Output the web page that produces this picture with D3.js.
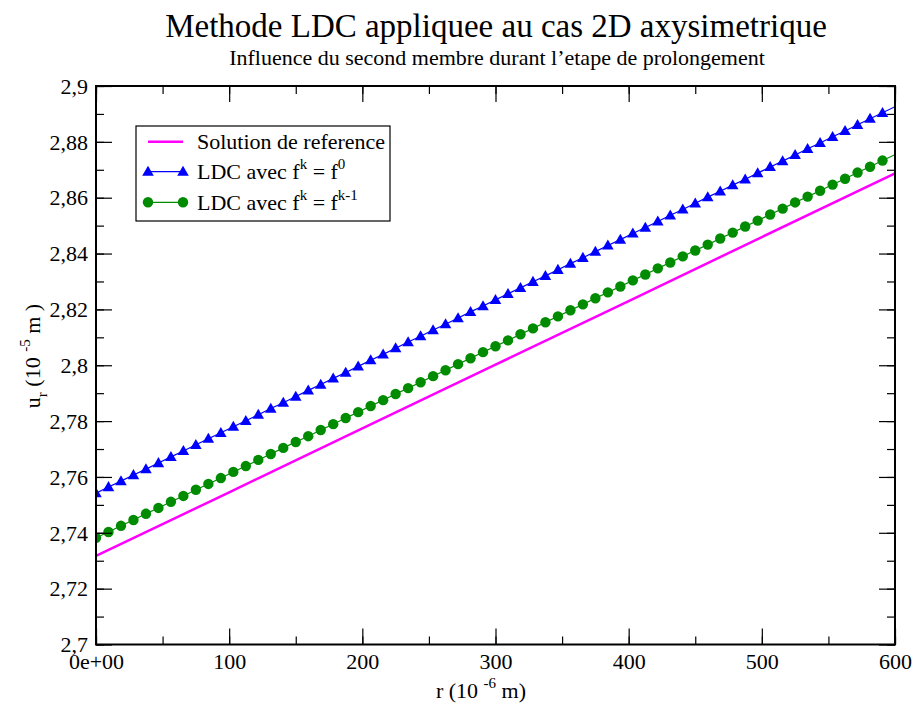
<!DOCTYPE html>
<html><head><meta charset="utf-8">
<script src="https://cdn.jsdelivr.net/npm/d3@7/dist/d3.min.js"></script>
<style>body{margin:0;background:#fff}svg{display:block}text{font-family:"Liberation Serif","Times New Roman",serif;fill:#000}</style>
</head><body><svg id="c" width="914" height="707"></svg>
<script>
const rGrid = [0,9.375,18.75,28.125,37.5,46.875,56.25,65.625,75,84.375,93.75,103.125,112.5,121.875,131.25,140.625,150,159.375,168.75,178.125,187.5,196.875,206.25,215.625,225,234.375,243.75,253.125,262.5,271.875,281.25,290.625,300,309.375,318.75,328.125,337.5,346.875,356.25,365.625,375,384.375,393.75,403.125,412.5,421.875,431.25,440.625,450,459.375,468.75,478.125,487.5,496.875,506.25,515.625,525,534.375,543.75,553.125,562.5,571.875,581.25,590.625,600];
const ldcF0 = [2.7542,2.7564,2.7585,2.7607,2.7628,2.7650,2.7672,2.7693,2.7715,2.7737,2.7758,2.7780,2.7801,2.7823,2.7845,2.7866,2.7888,2.7910,2.7931,2.7953,2.7974,2.7996,2.8018,2.8039,2.8061,2.8083,2.8104,2.8126,2.8147,2.8169,2.8191,2.8212,2.8234,2.8256,2.8277,2.8299,2.8320,2.8342,2.8364,2.8385,2.8407,2.8429,2.8450,2.8472,2.8493,2.8515,2.8537,2.8558,2.8580,2.8602,2.8623,2.8645,2.8666,2.8688,2.8710,2.8731,2.8753,2.8775,2.8796,2.8818,2.8839,2.8861,2.8883,2.8904,2.8926];
const ldcFk1 = [2.7382,2.7403,2.7425,2.7446,2.7468,2.7489,2.7511,2.7532,2.7554,2.7575,2.7596,2.7618,2.7639,2.7661,2.7682,2.7704,2.7725,2.7746,2.7768,2.7789,2.7811,2.7832,2.7854,2.7875,2.7897,2.7918,2.7939,2.7961,2.7982,2.8004,2.8025,2.8047,2.8068,2.8089,2.8111,2.8132,2.8154,2.8175,2.8197,2.8218,2.8240,2.8261,2.8282,2.8304,2.8325,2.8347,2.8368,2.8390,2.8411,2.8432,2.8454,2.8475,2.8497,2.8518,2.8540,2.8561,2.8583,2.8604,2.8625,2.8647,2.8668,2.8690,2.8711,2.8733,2.8754];
const refR = [0,100,200,300,400,500,600];
const refU = [2.7317,2.7545,2.7774,2.8002,2.8230,2.8459,2.8687];
const xTicks = [0,100,200,300,400,500,600];
const xTickLabels = ["0e+00","100","200","300","400","500","600"];
const yTicks = [2.7,2.72,2.74,2.76,2.78,2.8,2.82,2.84,2.86,2.88,2.9];
const yTickLabels = ["2,7","2,72","2,74","2,76","2,78","2,8","2,82","2,84","2,86","2,88","2,9"];

const L=96,R=895,T=86,B=644.5;
const svg=d3.select("#c");
const x=d3.scaleLinear().domain([0,600]).range([L,R]);
const y=d3.scaleLinear().domain([2.7,2.9]).range([B,T]);

svg.append("defs").append("clipPath").attr("id","clip").append("rect").attr("x",L).attr("y",T).attr("width",R-L).attr("height",B-T);
const g=svg.append("g").attr("clip-path","url(#clip)");
const line=d3.line().x(d=>x(d[0])).y(d=>y(d[1]));

g.append("path").datum(refR.map((r,i)=>[r,refU[i]])).attr("d",line).attr("fill","none").attr("stroke","#ff00ff").attr("stroke-width",2.5);
g.append("path").datum(rGrid.map((r,i)=>[r,ldcF0[i]])).attr("d",line).attr("fill","none").attr("stroke","#0000ff").attr("stroke-width",1.2);
g.append("path").datum(rGrid.map((r,i)=>[r,ldcFk1[i]])).attr("d",line).attr("fill","none").attr("stroke","#008b00").attr("stroke-width",1.2);

const tri=d3.symbol().type(d3.symbolTriangle).size(58);
const inside=rGrid.map((r,i)=>i).filter(i=>rGrid[i]<600);
g.selectAll(".tri").data(inside).join("path").attr("d",tri).attr("transform",i=>`translate(${x(rGrid[i])},${y(ldcF0[i])+0.8})`).attr("fill","#0000ff");
g.selectAll(".cir").data(inside).join("circle").attr("cx",i=>x(rGrid[i])).attr("cy",i=>y(ldcFk1[i])).attr("r",5.2).attr("fill","#008b00");

// axes with inward ticks, mirrored
const xMinor=d3.range(0,601,50), yMinor=d3.range(0,21).map(i=>2.7+i*0.01);
function ax(axisGen,tr){return svg.append("g").attr("transform",tr).call(axisGen).call(s=>s.select(".domain").remove());}
ax(d3.axisBottom(x).tickValues(xMinor).tickSize(-8).tickFormat(""),`translate(0,${B})`);
ax(d3.axisTop(x).tickValues(xMinor).tickSize(-8).tickFormat(""),`translate(0,${T})`);
ax(d3.axisLeft(y).tickValues(yMinor).tickSize(-8).tickFormat(""),`translate(${L},0)`);
ax(d3.axisRight(y).tickValues(yMinor).tickSize(-8).tickFormat(""),`translate(${R},0)`);
const xb=ax(d3.axisBottom(x).tickValues(xTicks).tickSize(-16).tickPadding(7).tickFormat((d,i)=>xTickLabels[i]),`translate(0,${B})`);
ax(d3.axisTop(x).tickValues(xTicks).tickSize(-16).tickFormat(""),`translate(0,${T})`);
const yl=ax(d3.axisLeft(y).tickValues(yTicks).tickSize(-16).tickPadding(7).tickFormat((d,i)=>yTickLabels[i]),`translate(${L},0)`);
ax(d3.axisRight(y).tickValues(yTicks).tickSize(-16).tickFormat(""),`translate(${R},0)`);
svg.selectAll(".tick line").attr("stroke","#000").attr("stroke-width",1.2);
svg.selectAll(".tick text").style("font-family","Liberation Serif").style("font-size","22px").attr("fill","#000");
xb.selectAll(".tick text").attr("dy","0.9em").attr("y",5);
yl.selectAll(".tick text").attr("x",-8).attr("dy","0.33em");
svg.append("rect").attr("x",L).attr("y",T).attr("width",R-L).attr("height",B-T).attr("fill","none").attr("stroke","#000").attr("stroke-width",2);

// titles
svg.append("text").attr("x",496).attr("y",37).attr("text-anchor","middle").style("font-size","33px").text("Methode LDC appliquee au cas 2D axysimetrique");
svg.append("text").attr("x",497).attr("y",65).attr("text-anchor","middle").style("font-size","22px").text("Influence du second membre durant l\u2019etape de prolongement");

// axis labels
const xt=svg.append("text").attr("x",481).attr("y",698).attr("text-anchor","middle").style("font-size","22px");
xt.append("tspan").text("r (10 ");
xt.append("tspan").attr("dy",-10).style("font-size","15px").text("-6");
xt.append("tspan").attr("dy",10).text(" m)");
const yt=svg.append("text").attr("transform","translate(40,356) rotate(-90)").attr("text-anchor","middle").style("font-size","22px");
yt.append("tspan").text("u");
yt.append("tspan").attr("dy",7).style("font-size","15px").text("r");
yt.append("tspan").attr("dy",-7).text(" (10 ");
yt.append("tspan").attr("dy",-10).style("font-size","15px").text("-5");
yt.append("tspan").attr("dy",10).text(" m )");

// legend
const lg=svg.append("g");
lg.append("rect").attr("x",136).attr("y",126).attr("width",254).attr("height",95).attr("fill","#fff").attr("stroke","#000").attr("stroke-width",1.2);
const rows=[{y:141.7,c:"#ff00ff",w:2.5,m:null},{y:171.7,c:"#0000ff",w:1.2,m:"tri"},{y:202.3,c:"#008b00",w:1.2,m:"cir"}];
rows.forEach(r=>{
  lg.append("line").attr("x1",148).attr("x2",183).attr("y1",r.y).attr("y2",r.y).attr("stroke",r.c).attr("stroke-width",r.w);
  [148,183].forEach(px=>{
    if(r.m==="tri") lg.append("path").attr("d",tri).attr("transform",`translate(${px},${r.y+0.8})`).attr("fill",r.c);
    if(r.m==="cir") lg.append("circle").attr("cx",px).attr("cy",r.y).attr("r",5.2).attr("fill",r.c);
  });
});
lg.append("text").attr("x",197).attr("y",149).style("font-size","22px").text("Solution de reference");
function fk(yy,sup2){
  const t=lg.append("text").attr("x",197).attr("y",yy).style("font-size","22px");
  t.append("tspan").text("LDC avec f");
  t.append("tspan").attr("dy",-10).style("font-size","15px").text("k");
  t.append("tspan").attr("dy",10).text(" = f");
  t.append("tspan").attr("dy",-10).style("font-size","15px").text(sup2);
}
fk(179,"0");
fk(210,"k-1");
</script></body></html>
